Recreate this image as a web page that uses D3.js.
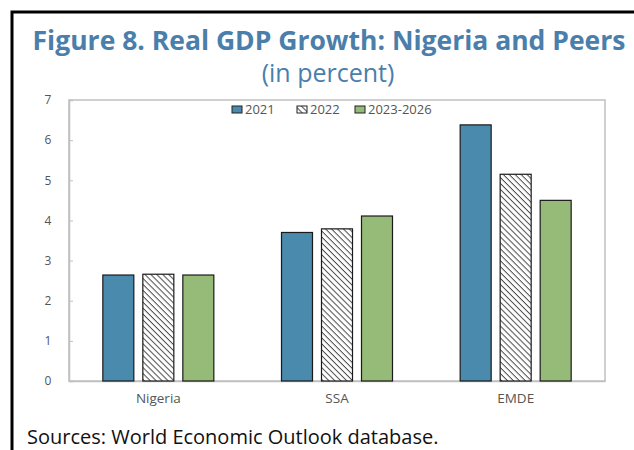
<!DOCTYPE html>
<html>
<head>
<meta charset="utf-8">
<script src="https://cdn.jsdelivr.net/npm/d3@7"></script>
<style>
  html, body { margin: 0; padding: 0; background: #fff; }
  svg { display: block; }
</style>
</head>
<body>
<svg id="chart" width="634" height="450"></svg>
<script>
// Real GDP growth, percent
const categories = ["Nigeria", "SSA", "EMDE"];
const seriesNames = ["2021", "2022", "2023-2026"];
const values2021 = [2.64, 3.70, 6.38];
const values2022 = [2.66, 3.79, 5.15];
const values2023_2026 = [2.64, 4.11, 4.50];
const yTicks = [0, 1, 2, 3, 4, 5, 6, 7];

const seriesValues = [values2021, values2022, values2023_2026];
const fills = ["#4a8aad", "url(#hatch)", "#96bb78"];

const svg = d3.select("#chart");
const font = "'Open Sans', 'Noto Sans', sans-serif";

// diagonal hatch for the 2022 bars
const defs = svg.append("defs");
const pat = defs.append("pattern")
  .attr("id", "hatch")
  .attr("patternUnits", "userSpaceOnUse")
  .attr("width", 4.2).attr("height", 4.2)
  .attr("patternTransform", "rotate(45)");
pat.append("rect").attr("width", 4.2).attr("height", 4.2).attr("fill", "#fff");
pat.append("line").attr("x1", 0).attr("y1", 0).attr("x2", 4.2).attr("y2", 0)
  .attr("stroke", "#4a4a4a").attr("stroke-width", 2);

// outer frame
svg.append("path")
  .attr("d", "M12,450 V12 H640")
  .attr("fill", "none").attr("stroke", "#000").attr("stroke-width", 3);

// titles
svg.append("text")
  .attr("x", 329).attr("y", 50)
  .attr("text-anchor", "middle")
  .attr("font-family", font).attr("font-weight", "bold")
  .attr("font-size", 26.5).attr("fill", "#4a7eab")
  .text("Figure 8. Real GDP Growth: Nigeria and Peers");
svg.append("text")
  .attr("x", 328).attr("y", 82)
  .attr("text-anchor", "middle")
  .attr("font-family", font)
  .attr("font-size", 25).attr("fill", "#4a7eab")
  .text("(in percent)");

const margin = { left: 69, right: 605, top: 100, bottom: 381 };
const groupWidth = 111;

const x0 = d3.scaleBand().domain(categories).range([margin.left, margin.right]);
const x1 = d3.scaleBand().domain(seriesNames).range([0, groupWidth]).paddingInner(0.225);
const y = d3.scaleLinear().domain([0, 7]).range([margin.bottom, margin.top]);

// plot frame
svg.append("rect")
  .attr("x", margin.left).attr("y", margin.top)
  .attr("width", margin.right - margin.left).attr("height", margin.bottom - margin.top)
  .attr("fill", "none").attr("stroke", "#c0c0c0").attr("stroke-width", 1.5);

// y axis
const yAxis = svg.append("g")
  .attr("transform", `translate(${margin.left},0)`)
  .call(d3.axisRight(y).tickValues(yTicks).tickSize(4).tickFormat(d3.format("d")));
yAxis.select(".domain").attr("stroke", "#c0c0c0").attr("stroke-width", 1.5);
yAxis.selectAll(".tick line").attr("stroke", "#c0c0c0");
yAxis.selectAll(".tick text")
  .attr("x", -21).attr("text-anchor", "middle")
  .attr("font-family", font).attr("font-size", 12).attr("fill", "#555");

// x axis
const xAxis = svg.append("g")
  .attr("transform", `translate(0,${margin.bottom})`)
  .call(d3.axisBottom(x0).tickSize(0).tickPadding(12));
xAxis.select(".domain").attr("stroke", "#c0c0c0").attr("stroke-width", 1.5);
xAxis.selectAll(".tick text")
  .attr("font-family", font).attr("font-size", 13.5).attr("fill", "#555");

// bars
const groupOffset = (x0.bandwidth() - groupWidth) / 2;
const groups = svg.append("g").selectAll("g")
  .data(categories)
  .join("g")
  .attr("transform", d => `translate(${x0(d) + groupOffset},0)`);

groups.selectAll("rect")
  .data((c, i) => seriesNames.map((s, j) => ({ s, j, v: seriesValues[j][i] })))
  .join("rect")
  .attr("x", d => x1(d.s))
  .attr("y", d => y(d.v))
  .attr("width", x1.bandwidth())
  .attr("height", d => y(0) - y(d.v))
  .attr("fill", d => fills[d.j])
  .attr("stroke", "#1a1a1a").attr("stroke-width", 1.2);

// legend
const legendX = [232, 297, 355];
const legend = svg.append("g");
seriesNames.forEach((s, j) => {
  legend.append("rect")
    .attr("x", legendX[j]).attr("y", 106)
    .attr("width", 10).attr("height", 7)
    .attr("fill", fills[j]).attr("stroke", "#222").attr("stroke-width", 1);
  legend.append("text")
    .attr("x", legendX[j] + 13).attr("y", 114)
    .attr("font-family", font).attr("font-size", 13).attr("fill", "#555")
    .text(s);
});

// source note
svg.append("text")
  .attr("x", 27).attr("y", 444)
  .attr("font-family", font).attr("font-size", 20).attr("fill", "#111")
  .text("Sources: World Economic Outlook database.");
</script>
</body>
</html>
